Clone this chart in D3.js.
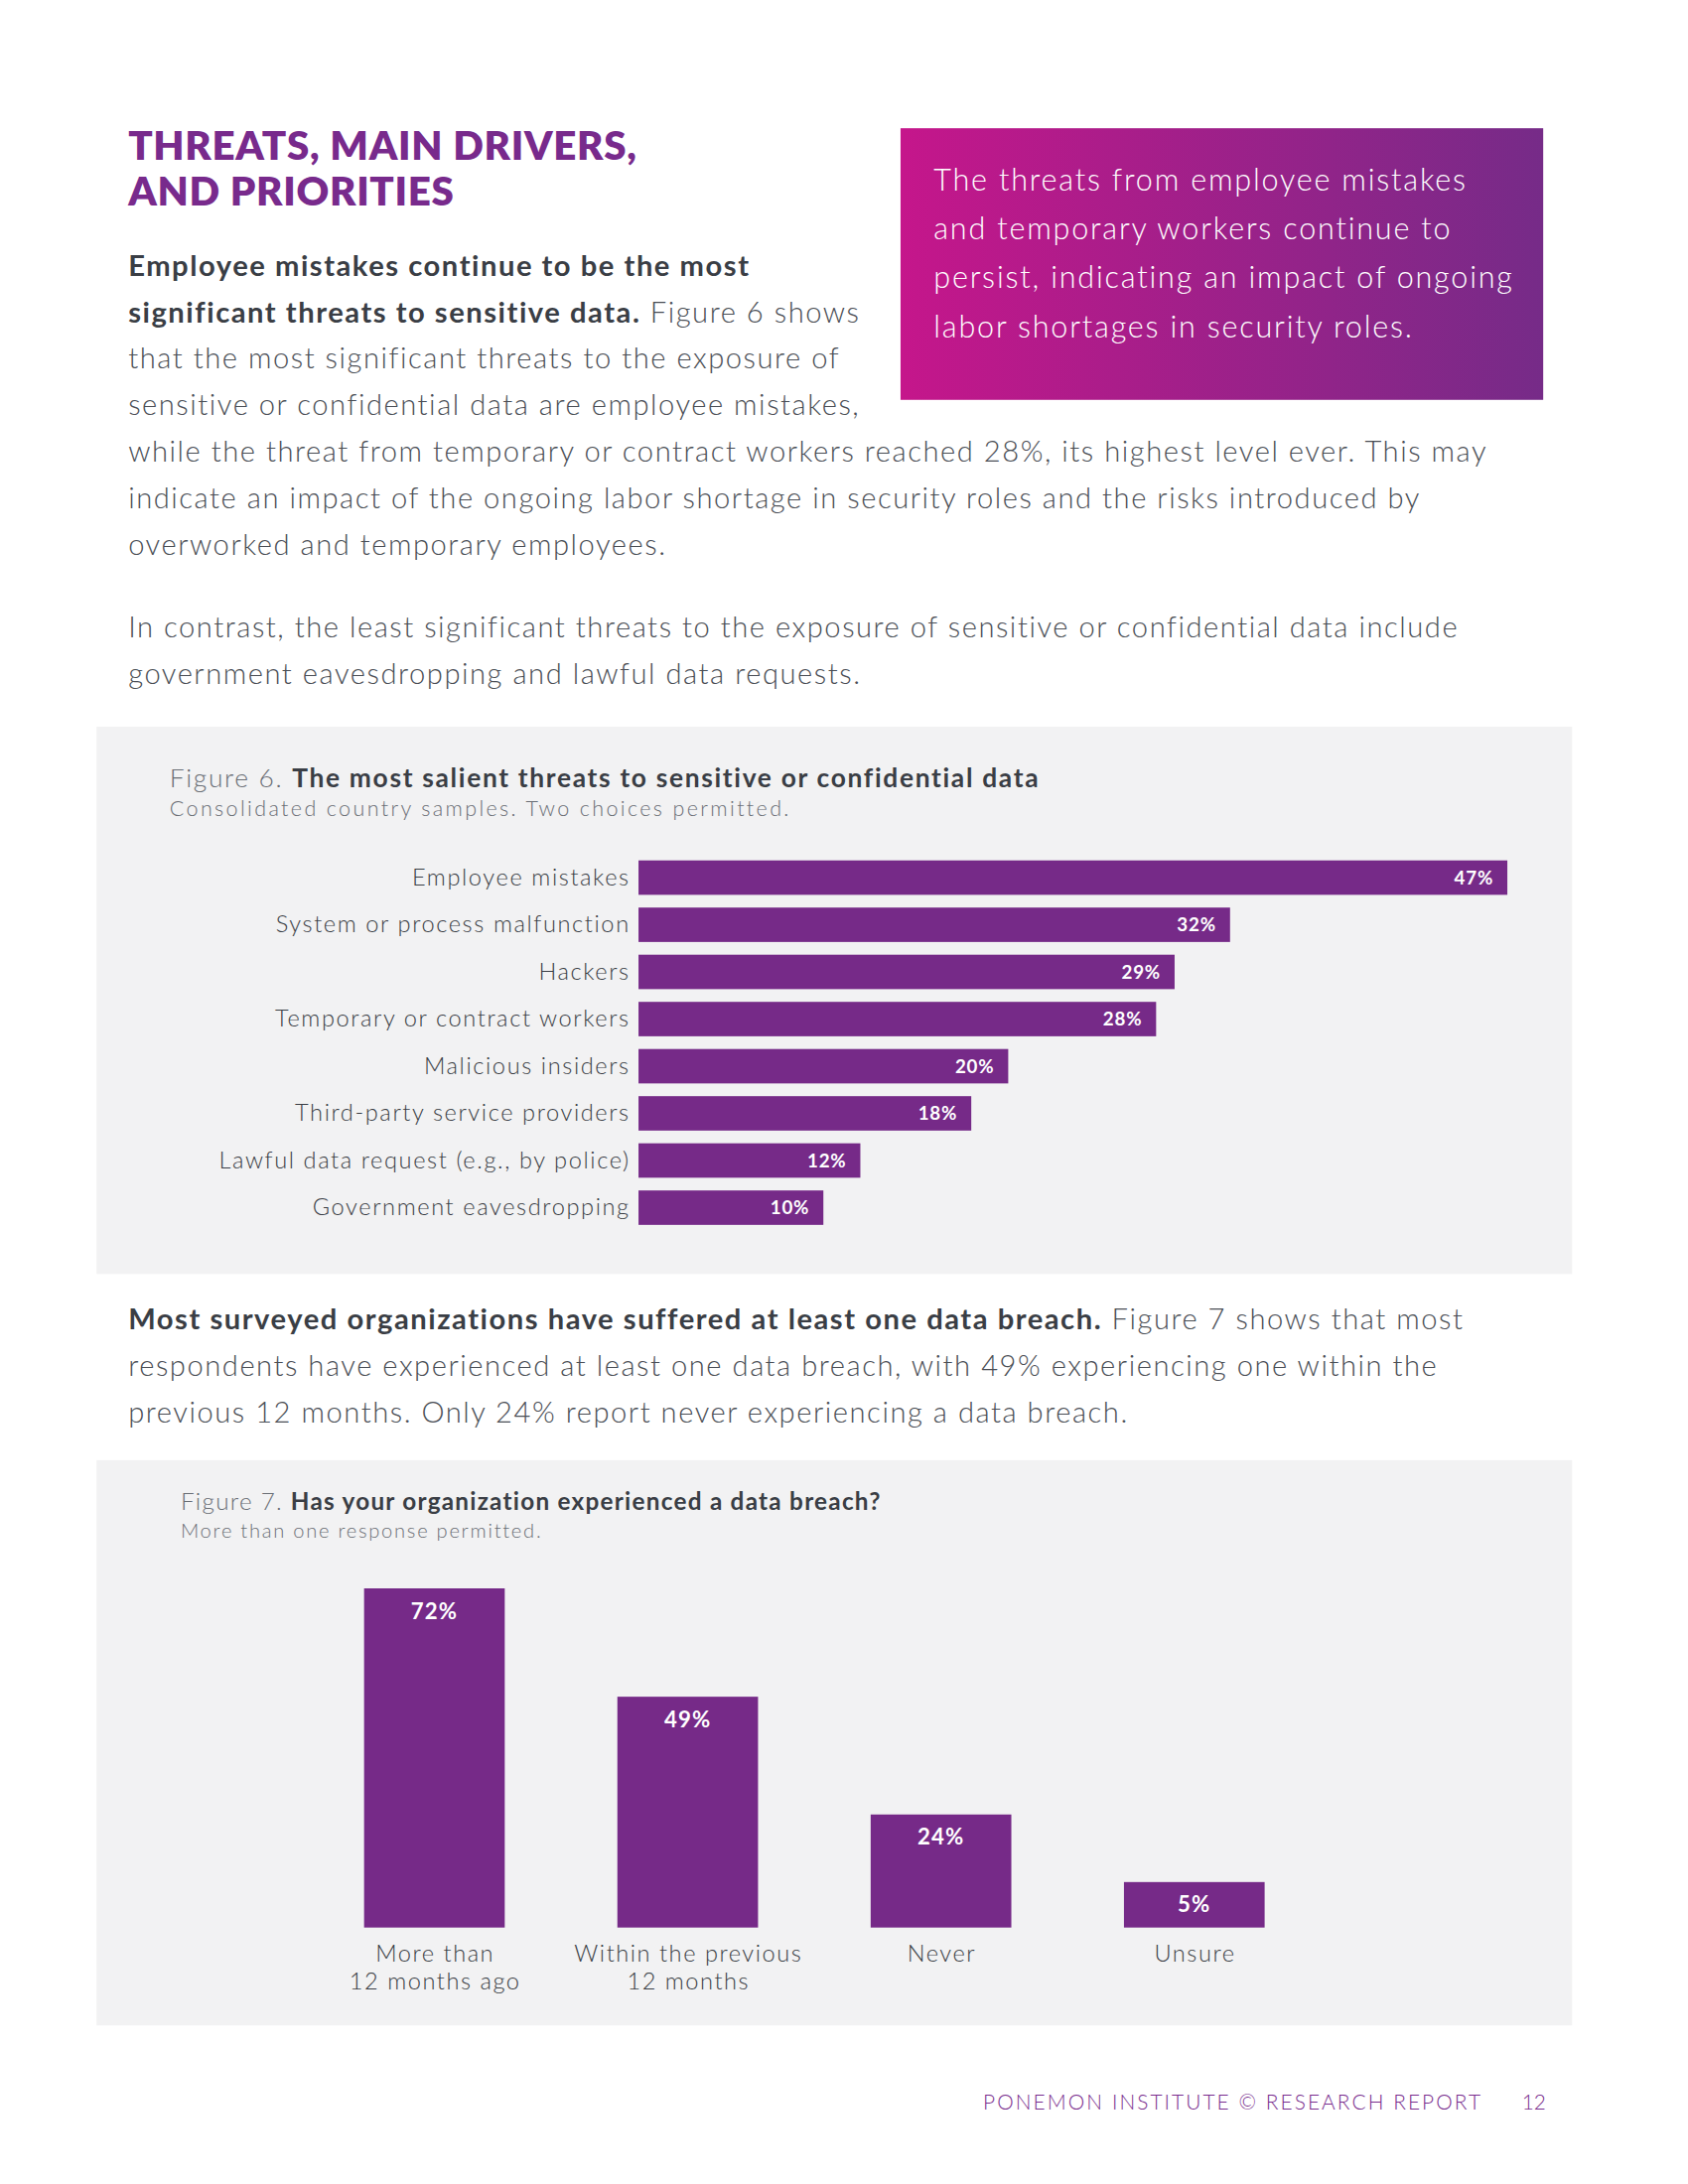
<!DOCTYPE html>
<html>
<head>
<meta charset="utf-8">
<script src="https://cdn.jsdelivr.net/npm/d3@7"></script>
<style>
  html, body { margin: 0; padding: 0; background: #ffffff; }
  svg { display: block; }
</style>
</head>
<body>
<div id="page"></div>
<script>
// ---------- DATA ----------
const threatCategories = [
  "Employee mistakes",
  "System or process malfunction",
  "Hackers",
  "Temporary or contract workers",
  "Malicious insiders",
  "Third-party service providers",
  "Lawful data request (e.g., by police)",
  "Government eavesdropping"
];
const threatValues = [47, 32, 29, 28, 20, 18, 12, 10];

const breachCategories = [
  ["More than", "12 months ago"],
  ["Within the previous", "12 months"],
  ["Never"],
  ["Unsure"]
];
const breachValues = [72, 49, 24, 5];

const headingLines = ["THREATS, MAIN DRIVERS,", "AND PRIORITIES"];
const calloutLines = [
  "The threats from employee mistakes",
  "and temporary workers continue to",
  "persist, indicating an impact of ongoing",
  "labor shortages in security roles."
];
// each line: array of [text, bold?]
const para1 = [
  [["Employee mistakes continue to be the most", true]],
  [["significant threats to sensitive data.", true], [" Figure 6 shows", false]],
  [["that the most significant threats to the exposure of", false]],
  [["sensitive or confidential data are employee mistakes,", false]],
  [["while the threat from temporary or contract workers reached 28%, its highest level ever. This may", false]],
  [["indicate an impact of the ongoing labor shortage in security roles and the risks introduced by", false]],
  [["overworked and temporary employees.", false]]
];
const para2 = [
  [["In contrast, the least significant threats to the exposure of sensitive or confidential data include", false]],
  [["government eavesdropping and lawful data requests.", false]]
];
const para3 = [
  [["Most surveyed organizations have suffered at least one data breach.", true], [" Figure 7 shows that most", false]],
  [["respondents have experienced at least one data breach, with 49% experiencing one within the", false]],
  [["previous 12 months. Only 24% report never experiencing a data breach.", false]]
];
const fig6Title = ["Figure 6. ", "The most salient threats to sensitive or confidential data"];
const fig6Sub = "Consolidated country samples. Two choices permitted.";
const fig7Title = ["Figure 7. ", "Has your organization experienced a data breach?"];
const fig7Sub = "More than one response permitted.";
const footerText = "PONEMON INSTITUTE \u00A9 RESEARCH REPORT";
const pageNumber = "12";

// ---------- STYLE ----------
const FONT = "Lato, 'Open Sans', 'Noto Sans', sans-serif";
const PURPLE = "#762a88";
const TITLE_PURPLE = "#782a8c";
const DARK = "#3a3e45";
const BODY = "#4a4e55";
const GREY = "#6a6e75";
const PANEL = "#f2f2f3";

const W = 1224, H = 1584;
const svg = d3.select("#page").append("svg")
  .attr("width", 1700).attr("height", 2200)
  .attr("viewBox", `0 0 ${W} ${H}`)
  .style("font-family", FONT);

svg.append("rect").attr("width", W).attr("height", H).attr("fill", "#fff");

// ---------- HEADING ----------
svg.append("g").selectAll("text").data(headingLines).join("text")
  .attr("x", 93).attr("y", (d, i) => 116 + i * 33)
  .attr("font-size", 29).attr("font-weight", 800)
  .attr("letter-spacing", 0.5)
  .attr("fill", TITLE_PURPLE)
  .text(d => d);

// ---------- CALLOUT ----------
const defs = svg.append("defs");
const grad = defs.append("linearGradient").attr("id", "cg").attr("x1", "0%").attr("x2", "100%");
grad.append("stop").attr("offset", "0%").attr("stop-color", "#c5168b");
grad.append("stop").attr("offset", "100%").attr("stop-color", "#762b88");
svg.append("rect").attr("x", 653).attr("y", 93).attr("width", 466).attr("height", 197)
  .attr("fill", "url(#cg)");
svg.append("g").selectAll("text").data(calloutLines).join("text")
  .attr("x", 677).attr("y", (d, i) => 138 + i * 35.5)
  .attr("font-size", 22).attr("font-weight", 300).attr("fill", "#fff")
  .attr("letter-spacing", 1.3)
  .text(d => d);

// ---------- PARAGRAPHS ----------
function drawPara(lines, x, y0, lh, size) {
  const g = svg.append("g");
  lines.forEach((parts, i) => {
    const t = g.append("text").attr("x", x).attr("y", y0 + i * lh)
      .attr("font-size", size).attr("letter-spacing", 1.1);
    parts.forEach(([txt, bold]) => {
      t.append("tspan")
        .attr("font-weight", bold ? 700 : 300)
        .attr("fill", bold ? DARK : BODY)
        .text(txt);
    });
  });
}
drawPara(para1, 93, 200, 33.7, 21);
drawPara(para2, 93, 462, 34, 21);
drawPara(para3, 93, 964, 34, 21);

// ---------- FIGURE 6 ----------
svg.append("rect").attr("x", 70).attr("y", 527).attr("width", 1070).attr("height", 397).attr("fill", PANEL);
const f6t = svg.append("text").attr("x", 123).attr("y", 571).attr("font-size", 19).attr("letter-spacing", 1.2);
f6t.append("tspan").attr("font-weight", 300).attr("fill", GREY).text(fig6Title[0]);
f6t.append("tspan").attr("font-weight", 700).attr("fill", DARK).text(fig6Title[1]);
svg.append("text").attr("x", 123).attr("y", 592).attr("font-size", 15.5).attr("font-weight", 300)
  .attr("fill", GREY).attr("letter-spacing", 1.7).text(fig6Sub);

const x6 = d3.scaleLinear().domain([0, 47]).range([463, 1093]);
const y6 = d3.scaleBand().domain(threatCategories).range([614.8, 897.6]).padding(0.27);

const g6 = svg.append("g");
g6.selectAll("rect").data(threatCategories).join("rect")
  .attr("x", x6(0))
  .attr("y", d => y6(d))
  .attr("width", (d, i) => x6(threatValues[i]) - x6(0))
  .attr("height", y6.bandwidth())
  .attr("fill", PURPLE);

const yAxis6 = d3.axisLeft(y6).tickSize(0).tickPadding(6);
const ax6 = svg.append("g").attr("transform", `translate(${x6(0)},0)`).call(yAxis6);
ax6.select(".domain").remove();
ax6.selectAll("text").attr("font-family", FONT).attr("font-size", 17).attr("font-weight", 300)
  .attr("fill", DARK).attr("letter-spacing", 1.15);

g6.selectAll("text").data(threatCategories).join("text")
  .attr("x", (d, i) => x6(threatValues[i]) - 10)
  .attr("y", d => y6(d) + y6.bandwidth() / 2)
  .attr("dy", "0.36em")
  .attr("text-anchor", "end")
  .attr("font-size", 13.5).attr("font-weight", 700).attr("fill", "#fff")
  .attr("letter-spacing", 0.6)
  .text((d, i) => threatValues[i] + "%");

// ---------- FIGURE 7 ----------
svg.append("rect").attr("x", 70).attr("y", 1059).attr("width", 1070).attr("height", 410).attr("fill", PANEL);
const f7t = svg.append("text").attr("x", 131).attr("y", 1095).attr("font-size", 17.5).attr("letter-spacing", 0.9);
f7t.append("tspan").attr("font-weight", 300).attr("fill", GREY).text(fig7Title[0]);
f7t.append("tspan").attr("font-weight", 700).attr("fill", DARK).text(fig7Title[1]);
svg.append("text").attr("x", 131).attr("y", 1115).attr("font-size", 14.5).attr("font-weight", 300)
  .attr("fill", GREY).attr("letter-spacing", 1.25).text(fig7Sub);

const keys7 = breachCategories.map(d => d.join(" "));
const x7 = d3.scalePoint().domain(keys7).range([315, 866]);
const y7 = d3.scaleLinear().domain([0, 72]).range([1398, 1152]);
const BW = 102, MINH = 33;
const top7 = v => Math.min(y7(v), y7(0) - MINH);

const g7 = svg.append("g");
g7.selectAll("rect").data(keys7).join("rect")
  .attr("x", d => x7(d) - BW / 2)
  .attr("y", (d, i) => top7(breachValues[i]))
  .attr("width", BW)
  .attr("height", (d, i) => y7(0) - top7(breachValues[i]))
  .attr("fill", PURPLE);

g7.selectAll("text.val").data(keys7).join("text").attr("class", "val")
  .attr("x", d => x7(d))
  .attr("y", (d, i) => top7(breachValues[i]) + 22)
  .attr("text-anchor", "middle")
  .attr("font-size", 16).attr("font-weight", 700).attr("fill", "#fff")
  .attr("letter-spacing", 0.8)
  .text((d, i) => breachValues[i] + "%");

const xAxis7 = d3.axisBottom(x7).tickSize(0).tickPadding(0).tickFormat(() => "");
const ax7 = svg.append("g").attr("transform", `translate(0,${y7(0)})`).call(xAxis7);
ax7.select(".domain").remove();
ax7.selectAll(".tick").each(function(d, i) {
  const t = d3.select(this).append("text")
    .attr("text-anchor", "middle")
    .attr("font-family", FONT).attr("font-size", 17).attr("font-weight", 300)
    .attr("fill", DARK).attr("letter-spacing", 1.1);
  breachCategories[i].forEach((line, j) => {
    t.append("tspan").attr("x", 0).attr("y", 25 + j * 20).text(line);
  });
});

// ---------- FOOTER ----------
svg.append("text").attr("x", 1075).attr("y", 1530).attr("text-anchor", "end")
  .attr("font-size", 15).attr("font-weight", 300).attr("fill", "#7a2e8e")
  .attr("letter-spacing", 1.5).text(footerText);
svg.append("text").attr("x", 1121).attr("y", 1530).attr("text-anchor", "end")
  .attr("font-size", 15).attr("font-weight", 300).attr("fill", "#7a2e8e")
  .text(pageNumber);
</script>
</body>
</html>
